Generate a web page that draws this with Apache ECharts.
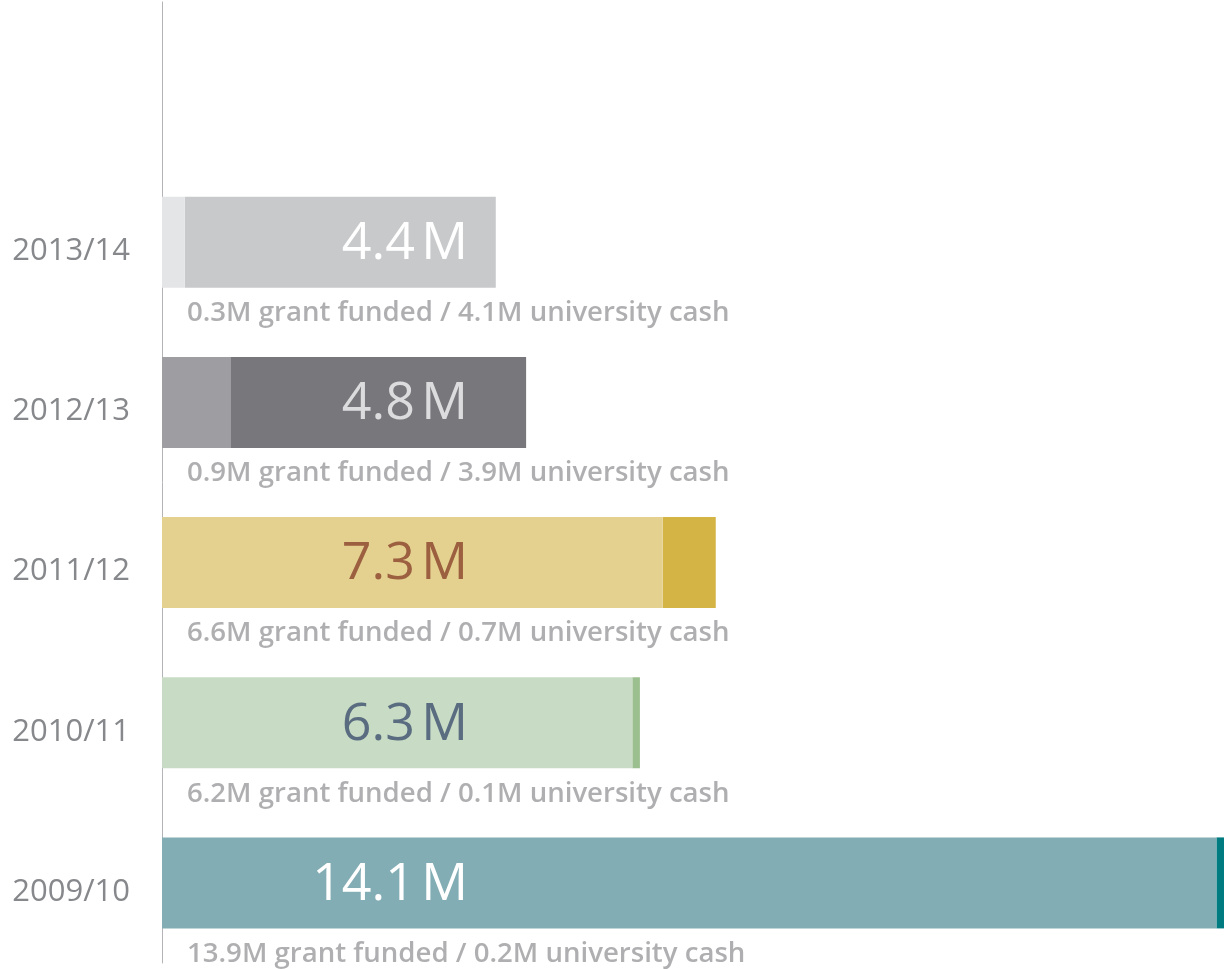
<!DOCTYPE html>
<html>
<head>
<meta charset="utf-8">
<title>Funding by year</title>
<script src="https://cdn.jsdelivr.net/npm/echarts@6/dist/echarts.min.js"></script>
<style>
  html, body { margin: 0; padding: 0; background: #ffffff; }
  #chart { width: 1224px; height: 969px; }
</style>
</head>
<body>
<div id="chart"></div>
<script>
// Academic years, listed top to bottom
const years = ['2013/14', '2012/13', '2011/12', '2010/11', '2009/10'];
// Funding split, millions
const grantFunded = [0.3, 0.9, 6.6, 6.2, 13.9];
const universityCash = [4.1, 3.9, 0.7, 0.1, 0.2];
const totals = [4.4, 4.8, 7.3, 6.3, 14.1];

// Per-year palette: light shade for grant, darker shade for cash, total label colour
const grantColors = ['#e4e5e7', '#9e9ea2', '#e4d190', '#c8dbc5', '#83adb4'];
const cashColors = ['#c8c9cb', '#78787c', '#d3b445', '#9bbf8e', '#007b7f'];
const totalLabelColors = ['#ffffff', '#dcdcde', '#9c6040', '#5a6c80', '#ffffff'];

// Category axis runs bottom-up; one blank slot is kept above the newest year
const axisCategories = years.slice().reverse().concat(['']);
const rev = arr => arr.slice().reverse();

const chart = echarts.init(document.getElementById('chart'));

const grantData = rev(grantFunded).map((v, i) => ({
  value: v,
  total: rev(totals)[i],
  itemStyle: { color: rev(grantColors)[i] },
  label: { rich: { n: { color: rev(totalLabelColors)[i] }, s: { color: rev(totalLabelColors)[i] }, u: { color: rev(totalLabelColors)[i] } } }
}));
const cashData = rev(universityCash).map((v, i) => ({
  value: v,
  itemStyle: { color: rev(cashColors)[i] }
}));
const noteData = axisCategories.slice(0, years.length).map((y, i) => ({
  value: [0, y],
  grant: rev(grantFunded)[i],
  cash: rev(universityCash)[i]
}));

chart.setOption({
  animation: false,
  grid: { left: 162, right: 0, top: 2, bottom: 6, containLabel: false },
  xAxis: { type: 'value', min: 0, max: 14, show: false },
  yAxis: {
    type: 'category',
    data: axisCategories,
    axisTick: { show: false },
    axisLine: { show: true, lineStyle: { color: '#b4b4b8', width: 1 } },
    axisLabel: {
      margin: 32,
      formatter: v => '{y|' + v + '}',
      rich: {
        y: {
          color: '#86888b',
          fontFamily: 'Open Sans',
          fontSize: 31,
          padding: [18, 0, 0, 0]
        }
      }
    },
    splitLine: { show: false }
  },
  series: [
    {
      name: 'Grant funded',
      type: 'bar',
      stack: 'funding',
      barWidth: 91,
      z: 3,
      data: grantData,
      label: {
        show: true,
        position: [306, '50%'],
        align: 'right',
        verticalAlign: 'middle',
        offset: [0, 2],
        formatter: p => '{n|' + p.data.total.toFixed(1) + '}{s| }{u|M}',
        rich: {
          n: { fontFamily: 'Open Sans', fontSize: 52, fontWeight: 400 },
          s: { fontFamily: 'Open Sans', fontSize: 24 },
          u: { fontFamily: 'Open Sans', fontSize: 52, fontWeight: 400 }
        }
      }
    },
    {
      name: 'University cash',
      type: 'bar',
      stack: 'funding',
      barWidth: 91,
      z: 2,
      data: cashData
    },
    {
      name: 'Split',
      type: 'scatter',
      symbolSize: 0,
      z: 4,
      data: noteData,
      label: {
        show: true,
        position: 'right',
        distance: 25,
        offset: [0, 71],
        color: '#9b9b9e',
        fontFamily: 'Open Sans',
        fontWeight: 600,
        fontSize: 27.6,
        formatter: p => p.data.grant.toFixed(1) + 'M grant funded / ' + p.data.cash.toFixed(1) + 'M university cash'
      }
    }
  ]
});
</script>
</body>
</html>
